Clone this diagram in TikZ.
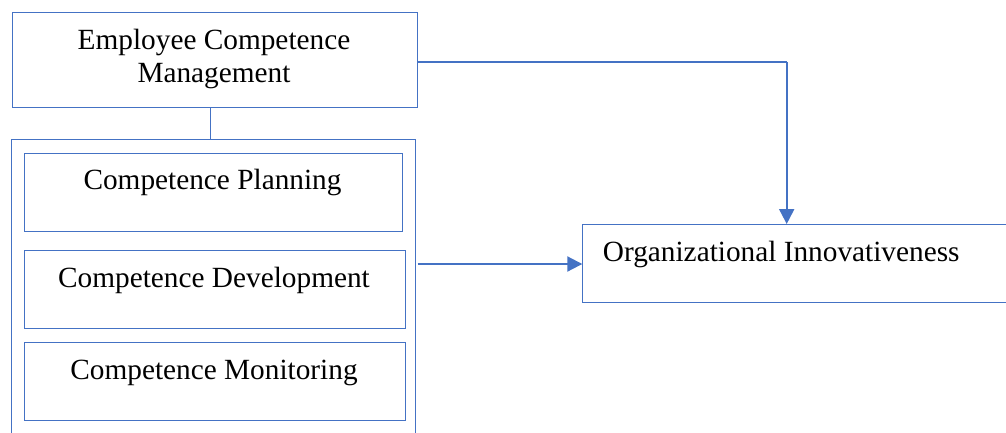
\documentclass[tikz,border=0pt]{standalone}
\usepackage{fontspec}
\setmainfont{Liberation Serif}
\usetikzlibrary{arrows.meta}
\definecolor{lineblue}{HTML}{4472C4}
\tikzset{
  box/.style={draw=lineblue, line width=1.1pt, rectangle, inner sep=0pt, anchor=north west, fill=none},
  txt/.style={inner sep=0pt, font=\fontsize{29.3}{32.4}\selectfont, text=black},
  thinlink/.style={draw=lineblue, line width=1.1pt},
  arrowlink/.style={draw=lineblue, line width=2pt, -{Triangle[width=15pt,length=15pt]}},
}
\begin{document}
\begin{tikzpicture}[x=1pt,y=-1pt]
\useasboundingbox (0,0) rectangle (1006,432);
\clip (0,0) rectangle (1006,432);
% boxes
\node[box, minimum width=404.5pt, minimum height=94.5pt] (ecm) at (12,12) {};
\node[box, minimum width=404.5pt, minimum height=320pt] (grp) at (10.5,138.5) {};
\node[box, minimum width=377.5pt, minimum height=78pt] (plan) at (24,152.5) {};
\node[box, minimum width=380.5pt, minimum height=78pt] (dev) at (24,250) {};
\node[box, minimum width=380.5pt, minimum height=77.7pt] (mon) at (24,342.3) {};
\node[box, minimum width=440pt, minimum height=77.7pt] (oi) at (582.3,224) {};
% texts
\node[txt, align=center] (ecmt) at (214,59) {Employee Competence\\Management};
\node[txt, anchor=base] (plant) at (212.5,189.5) {Competence Planning};
\node[txt, anchor=base] (devt) at (214,287) {Competence Development};
\node[txt, anchor=base] (mont) at (214,379.3) {Competence Monitoring};
\node[txt, anchor=base west] (oit) at (602.7,261.7) {Organizational Innovativeness};
% connectors
\coordinate (corner) at (786.7,62);
\draw[thinlink] (ecm.south -| 210.7,0) -- (grp.north -| 210.7,0);
\draw[thinlink] (ecm.east |- corner) -- (corner);
\draw[arrowlink] (corner) -- (oi.north -| corner);
\draw[arrowlink] ([xshift=1.5pt]grp.east |- 0,264) -- (oi.west |- 0,264);
\end{tikzpicture}
\end{document}
